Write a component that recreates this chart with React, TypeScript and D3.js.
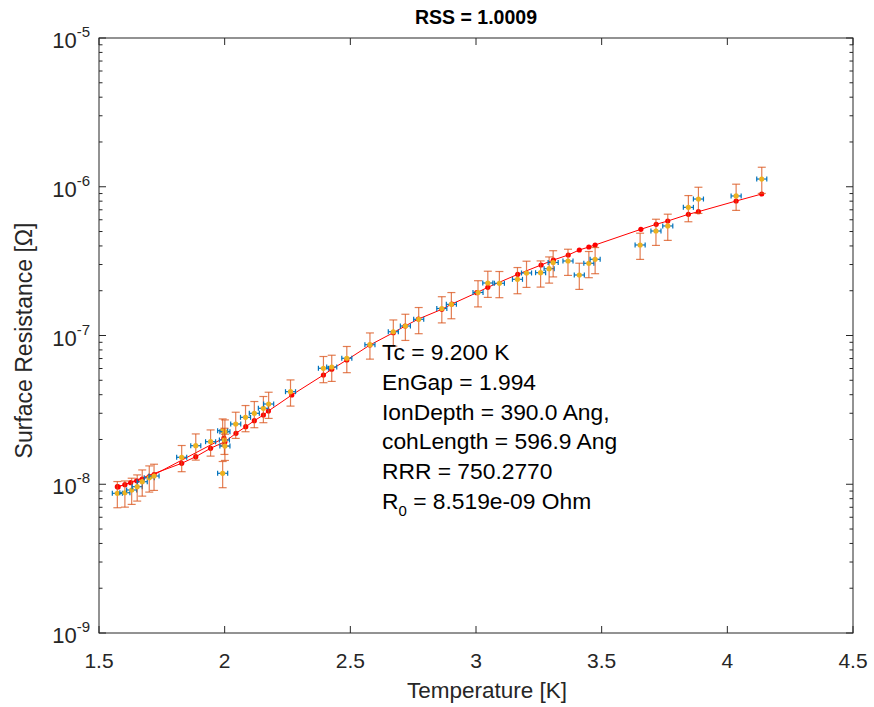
import React from 'react';
import { scaleLinear, scaleLog, line } from 'd3';

// measured temperature [K] and surface resistance [Ohm]
const measT = [1.573, 1.603, 1.630, 1.652, 1.672, 1.700, 1.719, 1.829, 1.885, 1.944,
  1.992, 2.001, 1.999, 2.001, 1.992, 2.044, 2.083, 2.118, 2.154, 2.175,
  2.262, 2.393, 2.426, 2.486, 2.578, 2.671, 2.719, 2.772, 2.864, 2.902,
  3.008, 3.047, 3.093, 3.165, 3.201, 3.257, 3.291, 3.307, 3.366, 3.411,
  3.449, 3.474, 3.653, 3.716, 3.763, 3.845, 3.885, 4.035, 4.137];
const measR = [8.69e-9, 8.77e-9, 9.15e-9, 9.63e-9, 1.04e-8, 1.107e-8, 1.136e-8, 1.518e-8, 1.816e-8, 1.932e-8,
  2.291e-8, 2.256e-8, 1.983e-8, 1.807e-8, 1.185e-8, 2.541e-8, 2.818e-8, 2.999e-8, 3.241e-8, 3.463e-8,
  4.19e-8, 6.02e-8, 6.14e-8, 7.03e-8, 8.67e-8, 1.06e-7, 1.158e-7, 1.285e-7, 1.519e-7, 1.62e-7,
  1.946e-7, 2.254e-7, 2.244e-7, 2.386e-7, 2.632e-7, 2.644e-7, 2.812e-7, 3.096e-7, 3.168e-7, 2.551e-7,
  3.058e-7, 3.253e-7, 4.06e-7, 5.04e-7, 5.45e-7, 7.27e-7, 8.27e-7, 8.67e-7, 1.127e-6];
const relErr = 0.2;
const tErr = 0.02;

// fit, first (low temperature) sweep
const fitLowT = [1.573, 1.603, 1.626, 1.650, 1.672, 1.700, 1.719, 1.997];
const fitLowR = [9.63e-9, 9.93e-9, 1.024e-8, 1.056e-8, 1.084e-8, 1.124e-8, 1.159e-8, 2.046e-8];

// fit, main sweep
const fitT = [1.576, 1.829, 1.885, 1.944, 2.001, 2.045, 2.084, 2.118, 2.154, 2.174,
  2.267, 2.393, 2.426, 2.486, 2.578, 2.671, 2.718, 2.771, 2.864, 2.904,
  3.003, 3.047, 3.166, 3.259, 3.308, 3.367, 3.411, 3.449, 3.474, 3.656,
  3.717, 3.763, 3.845, 3.885, 4.035, 4.137];
const fitR = [9.6e-9, 1.383e-8, 1.532e-8, 1.745e-8, 1.932e-8, 2.201e-8, 2.438e-8, 2.674e-8, 2.92e-8, 3.108e-8,
  3.98e-8, 5.425e-8, 5.93e-8, 6.845e-8, 8.63e-8, 1.044e-7, 1.158e-7, 1.291e-7, 1.5e-7, 1.628e-7,
  1.94e-7, 2.109e-7, 2.578e-7, 2.979e-7, 3.218e-7, 3.476e-7, 3.757e-7, 3.936e-7, 4.06e-7, 5.176e-7,
  5.592e-7, 5.885e-7, 6.53e-7, 6.8e-7, 8.02e-7, 8.94e-7];

const xTicks = [1.5, 2, 2.5, 3, 3.5, 4, 4.5];
const yExps = [-9, -8, -7, -6, -5];

const notes = ['Tc = 9.200 K', 'EnGap = 1.994', 'IonDepth = 390.0 Ang,', 'cohLength = 596.9 Ang', 'RRR = 750.2770'];

const W = 874, H = 707;
const left = 99, right = 853, top = 38, bottom = 633;
const axisColor = '#262626';
const font = '"Liberation Sans", Arial, Helvetica, sans-serif';

export default function App() {
  const x = scaleLinear().domain([1.5, 4.5]).range([left, right]);
  const y = scaleLog().domain([1e-9, 1e-5]).range([bottom, top]);

  const path = line<[number, number]>().x(d => x(d[0])).y(d => y(d[1]));
  const lowPts = fitLowT.map((t, i) => [t, fitLowR[i]] as [number, number]);
  const mainPts = fitT.map((t, i) => [t, fitR[i]] as [number, number]);

  const minor: number[] = [];
  yExps.slice(0, -1).forEach(e => {
    for (let k = 2; k <= 9; k++) minor.push(k * Math.pow(10, e));
  });

  return (
    <svg width={W} height={H} style={{ position: 'absolute', left: 0, top: 0, background: '#fff' }} fontFamily={font}>
      <rect x={0} y={0} width={W} height={H} fill="#fff" />

      {/* fit */}
      <path d={path(lowPts) || ''} fill="none" stroke="#ff0000" strokeWidth={1} />
      <path d={path(mainPts) || ''} fill="none" stroke="#ff0000" strokeWidth={1} />
      {[...lowPts, ...mainPts].map((d, i) => (
        <circle key={'f' + i} cx={x(d[0])} cy={y(d[1])} r={2.6} fill="#ff0000" />
      ))}

      {/* measured with error bars */}
      {measT.map((t, i) => {
        const cx = x(t), cy = y(measR[i]);
        const y1 = y(measR[i] * (1 + relErr)), y2 = y(measR[i] * (1 - relErr));
        const x1 = x(t - tErr), x2 = x(t + tErr);
        return (
          <g key={'m' + i}>
            <g stroke="#d95319" strokeOpacity={0.75} strokeWidth={1.2}>
              <line x1={cx} x2={cx} y1={y1} y2={y2} />
              <line x1={cx - 4} x2={cx + 4} y1={y1} y2={y1} />
              <line x1={cx - 4} x2={cx + 4} y1={y2} y2={y2} />
            </g>
            <g stroke="#0072bd" strokeWidth={1.2}>
              <line x1={x1} x2={x2} y1={cy} y2={cy} />
              <line x1={x1} x2={x1} y1={cy - 2.5} y2={cy + 2.5} />
              <line x1={x2} x2={x2} y1={cy - 2.5} y2={cy + 2.5} />
            </g>
            <circle cx={cx} cy={cy} r={2.6} fill="#edb120" />
          </g>
        );
      })}

      {/* axes box */}
      <rect x={left} y={top} width={right - left} height={bottom - top} fill="none" stroke={axisColor} strokeWidth={1} />
      {xTicks.map(t => (
        <g key={'xt' + t}>
          <line x1={x(t)} x2={x(t)} y1={bottom} y2={bottom - 7} stroke={axisColor} />
          <line x1={x(t)} x2={x(t)} y1={top} y2={top + 7} stroke={axisColor} />
          <text x={x(t)} y={668} textAnchor="middle" fontSize={21} fill={axisColor}>{t}</text>
        </g>
      ))}
      {yExps.map(e => {
        const v = Math.pow(10, e);
        return (
          <g key={'yt' + e}>
            <line x1={left} x2={left + 7} y1={y(v)} y2={y(v)} stroke={axisColor} />
            <line x1={right} x2={right - 7} y1={y(v)} y2={y(v)} stroke={axisColor} />
            <text x={90} y={y(v) + 10} textAnchor="end" fontSize={22} fill={axisColor}>
              10<tspan fontSize={15} dy={-11}>{e}</tspan>
            </text>
          </g>
        );
      })}
      {minor.map((v, i) => (
        <g key={'mn' + i}>
          <line x1={left} x2={left + 3.5} y1={y(v)} y2={y(v)} stroke={axisColor} />
          <line x1={right} x2={right - 3.5} y1={y(v)} y2={y(v)} stroke={axisColor} />
        </g>
      ))}

      {/* labels */}
      <text x={476} y={24} textAnchor="middle" fontSize={19.5} fontWeight="bold" fill="#000">RSS = 1.0009</text>
      <text x={487} y={698} textAnchor="middle" fontSize={22.5} fill={axisColor}>Temperature [K]</text>
      <text transform={`translate(32,${(top + bottom) / 2 + 5}) rotate(-90)`} textAnchor="middle" fontSize={23} fill={axisColor}>
        Surface Resistance [Ω]
      </text>

      {/* fit parameters */}
      {notes.map((s, i) => (
        <text key={'n' + i} x={382} y={360 + i * 29.8} fontSize={22.8} fill="#000">{s}</text>
      ))}
      <text x={382} y={360 + 5 * 29.8} fontSize={22.8} fill="#000">
        R<tspan fontSize={15} dy={7}>0</tspan><tspan dy={-7}> = 8.519e-09 Ohm</tspan>
      </text>
    </svg>
  );
}
